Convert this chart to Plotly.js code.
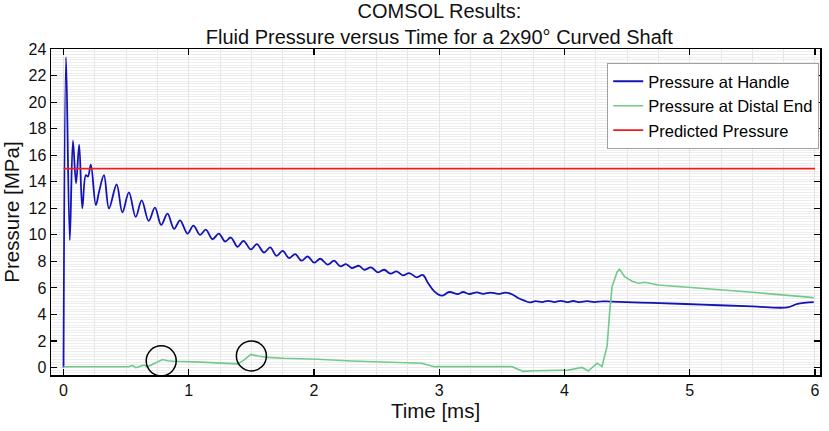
<!DOCTYPE html>
<html>
<head>
<meta charset="utf-8">
<script src="https://cdn.plot.ly/plotly-3.0.1.min.js"></script>
<style>body{margin:0;padding:0;background:#fff;}#chart{width:829px;height:431px;}</style>
</head>
<body>
<div id="chart"></div>
<script>
// Pressure at Handle (blue)
const handleT = [0,0.02,0.05,0.075,0.1,0.125,0.15,0.178,0.195,0.218,0.258,0.285,0.323,0.363,0.424,0.47,0.522,0.576,0.624,0.68,0.73,0.78,0.83,0.883,0.93,0.99,1.037,1.09,1.136,1.19,1.24,1.29,1.336,1.39,1.437,1.496,1.544,1.6,1.65,1.70,1.75,1.80,1.85,1.90,1.95,2.0,2.05,2.11,2.16,2.21,2.256,2.30,2.36,2.40,2.456,2.51,2.56,2.61,2.66,2.71,2.76,2.82,2.87,2.91,2.96,3.02,3.08,3.15,3.19,3.24,3.30,3.35,3.41,3.47,3.53,3.58,3.63,3.68,3.72,3.77,3.82,3.87,3.92,3.97,4.02,4.07,4.12,4.18,4.24,4.30,4.38,4.70,5.10,5.50,5.78,5.86,5.99];
const handleP = [0,23.4,9.6,17.1,13.9,16.8,12.0,14.5,14.4,15.3,12.25,13.3,14.5,12.0,13.8,11.7,13.2,11.35,12.6,11.05,12.05,10.75,11.6,10.45,11.1,10.1,10.7,10.0,10.4,9.67,10.1,9.5,9.8,9.1,9.55,8.9,9.3,8.67,9.05,8.42,8.8,8.25,8.55,8.05,8.37,7.9,8.2,7.75,8.05,7.62,7.8,7.5,7.67,7.37,7.54,7.17,7.37,7.07,7.24,6.94,7.12,6.8,6.97,6.37,5.74,5.41,5.69,5.54,5.69,5.54,5.66,5.55,5.65,5.55,5.64,5.52,5.24,5.04,4.91,5.0,4.93,5.02,4.93,5.02,4.93,5.01,4.93,5.0,4.93,4.99,4.96,4.87,4.74,4.6,4.53,4.8,4.93];

// Pressure at Distal End (green)
const distalT = [0,0.52,0.55,0.576,0.616,0.643,0.67,0.72,0.79,0.83,0.88,1.1,1.36,1.39,1.44,1.496,1.55,1.63,1.76,2.03,2.3,2.56,2.86,2.96,3.58,3.67,3.76,4.03,4.14,4.19,4.26,4.30,4.34,4.36,4.38,4.42,4.44,4.48,4.54,4.59,4.64,4.75,5.1,5.5,5.99];
const distalP = [0.05,0.05,0.15,-0.02,0.1,0.18,0.05,0.3,0.6,0.5,0.47,0.4,0.3,0.27,0.55,0.98,0.86,0.76,0.69,0.62,0.49,0.39,0.32,0.06,0.06,-0.3,-0.25,-0.2,0.0,-0.27,0.32,0.07,1.6,4.1,6.1,7.2,7.4,6.85,6.5,6.35,6.42,6.22,5.97,5.67,5.27];

// Predicted Pressure (red)
const predT = [0, 6];
const predP = [15, 15];

// Highlight circles (centres in data units)
const circleT = [0.78, 1.5];
const circleP = [0.5, 0.87];

const traces = [
  {x: handleT, y: handleP, type: 'scatter', mode: 'lines', name: 'Pressure at Handle',
   line: {color: '#1414b4', width: 1.8, shape: 'spline', smoothing: 1}},
  {x: distalT, y: distalP, type: 'scatter', mode: 'lines', name: 'Pressure at Distal End',
   line: {color: '#72c98c', width: 1.6}},
  {x: predT, y: predP, type: 'scatter', mode: 'lines', name: 'Predicted Pressure',
   line: {color: '#ee1c1c', width: 1.6}}
];

const shapes = circleT.map((t, i) => ({
  type: 'circle', xref: 'x', yref: 'y', xsizemode: 'pixel', ysizemode: 'pixel',
  xanchor: t, yanchor: circleP[i], x0: -15, x1: 15, y0: -15, y1: 15,
  line: {color: '#000', width: 1.5}
}));

const font = 'Liberation Sans, Arial, sans-serif';
const layout = {
  width: 829, height: 431,
  margin: {l: 51, r: 9, t: 49, b: 56},
  paper_bgcolor: '#fff', plot_bgcolor: '#fff',
  font: {family: font, color: '#111', size: 16},
  title: {text: 'COMSOL Results:<br>Fluid Pressure versus Time for a 2x90° Curved Shaft',
          font: {family: font, size: 20, color: '#111'},
          x: 0.53, xref: 'container', y: 0.958, yref: 'container', yanchor: 'top'},
  showlegend: true,
  legend: {x: 0.999, xanchor: 'right', y: 0.957, yanchor: 'top',
           bgcolor: '#fff', bordercolor: '#a0a0a0', borderwidth: 1,
           font: {family: font, size: 16.5, color: '#000'}, itemwidth: 30, tracegroupgap: 0},
  xaxis: {
    range: [-0.1, 6.04], dtick: 1, tick0: 0,
    ticks: 'inside', ticklen: 6, tickcolor: '#000', tickwidth: 1.2,
    showline: true, linecolor: '#000', linewidth: 1.5, mirror: 'ticks',
    showgrid: true, gridcolor: '#e3e3e3', gridwidth: 1, zeroline: false,
    minor: {dtick: 0.25, showgrid: true, gridcolor: '#e3e3e3', gridwidth: 1},
    tickfont: {family: font, size: 16, color: '#111'},
    title: {text: 'Time [ms]', font: {family: font, size: 20.5, color: '#111'}, standoff: 6}
  },
  yaxis: {
    range: [-0.57, 24.02], dtick: 2, tick0: 0,
    ticks: 'inside', ticklen: 6, tickcolor: '#000', tickwidth: 1.2,
    showline: true, linecolor: '#000', linewidth: 1.5, mirror: 'ticks',
    showgrid: true, gridcolor: '#ebebeb', gridwidth: 1, zeroline: false,
    minor: {dtick: 0.2, showgrid: true, gridcolor: '#ededed', gridwidth: 1},
    tickfont: {family: font, size: 16, color: '#111'},
    title: {text: 'Pressure [MPa]', font: {family: font, size: 20.5, color: '#111'}, standoff: 6}
  },
  shapes: shapes
};

Plotly.newPlot('chart', traces, layout, {displayModeBar: false, staticPlot: true});
</script>
</body>
</html>
